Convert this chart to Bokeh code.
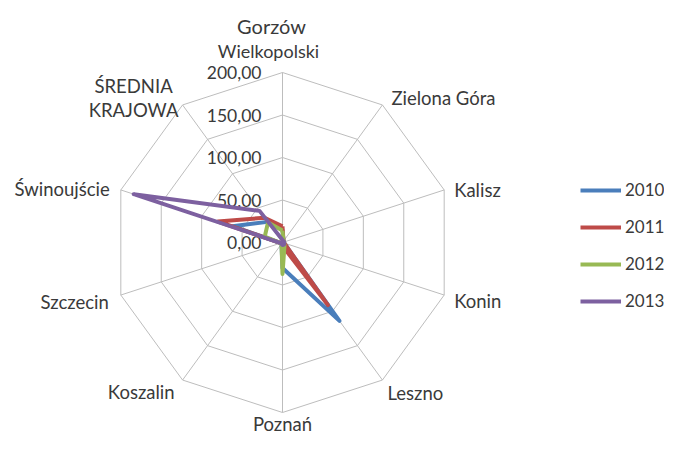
import numpy as np
from bokeh.plotting import figure
from bokeh.models import Range1d, Legend, LegendItem, ColumnDataSource
from bokeh.core.properties import value
from bokeh.embed import file_html
from bokeh.resources import INLINE

# ---------------- data ----------------
categories = ["Gorzów Wielkopolski", "Zielona Góra", "Kalisz", "Konin", "Leszno",
              "Poznań", "Koszalin", "Szczecin", "Świnoujście", "ŚREDNIA KRAJOWA"]
years = ["2010", "2011", "2012", "2013"]
v2010 = [15, 2, 2, 2, 114, 30, 2, 2, 62, 30]
v2011 = [19, 2, 2, 2, 91, 4, 2, 2, 80, 36]
v2012 = [14, 2, 2, 2, 4, 37, 2, 2, 22, 29]
v2013 = [3, 2, 2, 2, 3, 3, 2, 2, 184, 46]
ticks = [0, 50, 100, 150, 200]
tick_labels = ["0,00", "50,00", "100,00", "150,00", "200,00"]

series = [v2010, v2011, v2012, v2013]
colors = ["#4A7EBB", "#BE4B48", "#98B954", "#7D60A0"]

FONT = "Lato"
TXT = "#3a3a3a"
W, H = 664, 436
PX = 170 / 200.0          # pixels per unit
CX, CY = 282, 242         # centre in frame pixels

p = figure(width=W, height=H, output_backend="svg", toolbar_location=None,
           x_range=Range1d(-CX / PX, (W - CX) / PX),
           y_range=Range1d(-(H - CY) / PX, CY / PX),
           min_border=0)
p.axis.visible = False
p.grid.visible = False
p.outline_line_color = None
p.background_fill_color = "white"
p.border_fill_color = "white"

n = len(categories)
ang = np.deg2rad(90 - 360.0 / n * np.arange(n))
cosa, sina = np.cos(ang), np.sin(ang)
rmax = ticks[-1]

# grid rings and spokes
ring_xs = [list(np.append(cosa, cosa[0]) * t) for t in ticks[1:]]
ring_ys = [list(np.append(sina, sina[0]) * t) for t in ticks[1:]]
p.multi_line(ring_xs, ring_ys, line_color="#BDBDBD", line_width=1)
p.segment(x0=[0] * n, y0=[0] * n, x1=list(cosa * rmax), y1=list(sina * rmax),
          line_color="#BDBDBD", line_width=1)

# tick labels
p.text(x=[0] * len(ticks), y=ticks, text=tick_labels, x_offset=-21,
       text_align="right", text_baseline="middle",
       text_font=value(FONT), text_font_size="17.5px", text_color=TXT)

# series
renderers = []
for vals, col in zip(series, colors):
    v = np.array(vals, dtype=float)
    xs = list(np.append(v * cosa, v[0] * cosa[0]))
    ys = list(np.append(v * sina, v[0] * sina[0]))
    r = p.line(xs, ys, line_color=col, line_width=4, line_join="round")
    renderers.append(r)

# category labels
wrap = {"Gorzów Wielkopolski": ["Gorzów", "Wielkopolski"],
        "ŚREDNIA KRAJOWA": ["ŚREDNIA", "KRAJOWA"]}
place = [  # (align, [(dx, dy) per line])
    ("center", [(-11, -47), (-14, -22)]),
    ("left", [(9, -7)]),
    ("left", [(10, 0)]),
    ("left", [(10, 6)]),
    ("left", [(5, 13)]),
    ("center", [(0, 11)]),
    ("right", [(-8, 12)]),
    ("right", [(-12, 7)]),
    ("right", [(-11, -1)]),
    ("center", [(-49, -19), (-49, 5)]),
]
lx, ly, lt, lxo, lyo, lal, lsz = [], [], [], [], [], [], []
for i, cat in enumerate(categories):
    lines = wrap.get(cat, [cat])
    al, offs = place[i]
    for j, (ln, (dx, dy)) in enumerate(zip(lines, offs)):
        lx.append(cosa[i] * rmax)
        ly.append(sina[i] * rmax)
        lt.append(ln)
        lxo.append(dx)
        lyo.append(dy)
        lal.append(al)
        if i == 0:
            lsz.append("20px" if j == 0 else "18px")
        else:
            lsz.append("18.5px")
src = ColumnDataSource(dict(x=lx, y=ly, t=lt, xo=lxo, yo=lyo, al=lal, sz=lsz))
p.text(x="x", y="y", text="t", x_offset="xo", y_offset="yo", text_align="al",
       text_font_size="sz", source=src, text_baseline="middle",
       text_font=value(FONT), text_color=TXT)

legend = Legend(items=[LegendItem(label=y, renderers=[r]) for y, r in zip(years, renderers)],
                location=(580, 125), orientation="vertical",
                glyph_width=41, glyph_height=20, label_height=20, spacing=16,
                padding=0, margin=0, label_standoff=4,
                label_text_font=FONT, label_text_font_size="17px",
                label_text_color=TXT,
                border_line_alpha=0, background_fill_alpha=0)
p.add_layout(legend)

open("out.html", "w").write(file_html(p, INLINE))
